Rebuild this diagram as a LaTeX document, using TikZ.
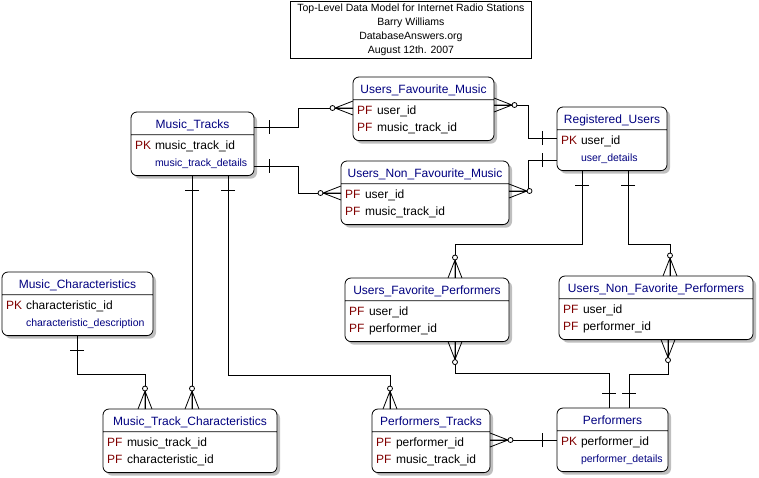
\documentclass[tikz,border=0pt]{standalone}
\usepackage{fontspec}
\setmainfont{Liberation Sans}
\usepackage{xcolor}
\usetikzlibrary{shapes,calc,shadows}

\definecolor{headblue}{RGB}{0,0,128}
\definecolor{keyred}{RGB}{128,0,0}

% entity parts
\newcommand{\ehead}[1]{\makebox[\linewidth]{\textcolor{headblue}{#1}}\rule[-6pt]{0pt}{22pt}}
\newcommand{\ekey}[2]{\makebox[20pt][l]{\textcolor{keyred}{#1}}#2}
\newcommand{\edetail}[1]{\hspace*{20pt}{\fontsize{10.5}{17}\selectfont\textcolor{headblue}{#1}}}
\newcommand{\ebody}[2]{\rule{0pt}{14pt}#1\\#2\rule[-9pt]{0pt}{9pt}}

\begin{document}
\begin{tikzpicture}[x=1pt,y=-1pt,line width=0.8pt,
  entity/.style={rectangle split, rectangle split parts=2, draw, fill=white,
    rounded corners=6pt, anchor=north west, inner xsep=4pt, inner ysep=0pt,
    outer sep=0pt, align=left, font=\fontsize{12}{17}\selectfont,
    drop shadow={shadow xshift=3pt,shadow yshift=-3pt,fill=black!25,opacity=1}},
  onemark/.pic={\draw (15,-7) -- (15,7);},
  manymark/.pic={\draw (0,-7) -- (18,0) -- (0,7) (0,0) -- (18,0);
    \draw[fill=white] (20.5,0) circle[radius=2.5pt];}]
\useasboundingbox (0,0) rectangle (759,477);

\node[draw, anchor=north west, minimum width=241pt, minimum height=57.5pt, inner sep=0pt,
  align=center, font=\fontsize{10.5}{14}\selectfont] (title) at (290,0.5)
  {Top-Level Data Model for Internet Radio Stations\\Barry Williams\\DatabaseAnswers.org\\August 12th. 2007};

% entities
\node[entity, text width=115pt] (tracks) at (131,112)
  {\ehead{Music\_Tracks}\nodepart{two}\ebody{\ekey{PK}{music\_track\_id}}{\edetail{music\_track\_details}}};
\node[entity, text width=133pt] (favmusic) at (353,77)
  {\ehead{Users\_Favourite\_Music}\nodepart{two}\ebody{\ekey{PF}{user\_id}}{\ekey{PF}{music\_track\_id}}};
\node[entity, text width=160pt] (nonfavmusic) at (341,161)
  {\ehead{Users\_Non\_Favourite\_Music}\nodepart{two}\ebody{\ekey{PF}{user\_id}}{\ekey{PF}{music\_track\_id}}};
\node[entity, text width=102pt] (users) at (557,107)
  {\ehead{Registered\_Users}\nodepart{two}\ebody{\ekey{PK}{user\_id}}{\edetail{user\_details}}};
\node[entity, text width=143pt] (chars) at (2,272)
  {\ehead{Music\_Characteristics}\nodepart{two}\ebody{\ekey{PK}{characteristic\_id}}{\edetail{characteristic\_description}}};
\node[entity, text width=166pt] (trackchars) at (103,409)
  {\ehead{Music\_Track\_Characteristics}\nodepart{two}\ebody{\ekey{PF}{music\_track\_id}}{\ekey{PF}{characteristic\_id}}};
\node[entity, text width=110pt] (perftracks) at (372,409)
  {\ehead{Performers\_Tracks}\nodepart{two}\ebody{\ekey{PF}{performer\_id}}{\ekey{PF}{music\_track\_id}}};
\node[entity, text width=103pt] (performers) at (557,408)
  {\ehead{Performers}\nodepart{two}\ebody{\ekey{PK}{performer\_id}}{\edetail{performer\_details}}};
\node[entity, text width=156pt] (favperf) at (345,278)
  {\ehead{Users\_Favorite\_Performers}\nodepart{two}\ebody{\ekey{PF}{user\_id}}{\ekey{PF}{performer\_id}}};
\node[entity, text width=186pt] (nonfavperf) at (559,276)
  {\ehead{Users\_Non\_Favorite\_Performers}\nodepart{two}\ebody{\ekey{PF}{user\_id}}{\ekey{PF}{performer\_id}}};

% relationships
\draw ($(tracks.north east)+(0,15)$) pic{onemark} -- ++(44,0)
  |- ($(favmusic.north west)+(0,31)$) pic[rotate=180]{manymark};
\draw ($(tracks.north east)+(0,54)$) pic{onemark} -- ++(44,0)
  |- ($(nonfavmusic.north west)+(0,32)$) pic[rotate=180]{manymark};
\draw ($(favmusic.north east)+(0,28)$) pic{manymark} -- ++(34,0)
  |- ($(users.north west)+(0,31)$) pic[rotate=180]{onemark};
\draw ($(nonfavmusic.north east)+(0,30)$) pic{manymark} -- ++(19,0)
  |- ($(users.north west)+(0,53)$) pic[rotate=180]{onemark};
\draw ($(users.south west)+(25,0)$) pic[rotate=-90]{onemark} -- ++(0,74)
  -| ($(favperf.north west)+(110,0)$) pic[rotate=90]{manymark};
\draw ($(users.south west)+(71,0)$) pic[rotate=-90]{onemark} -- ++(0,74)
  -| ($(nonfavperf.north west)+(111,0)$) pic[rotate=90]{manymark};
\draw ($(favperf.south west)+(110,0)$) pic[rotate=-90]{manymark} -- ++(0,32)
  -| ($(performers.north west)+(52,0)$) pic[rotate=90]{onemark};
\draw ($(nonfavperf.south west)+(109,0)$) pic[rotate=-90]{manymark} -- ++(0,35)
  -| ($(performers.north west)+(72,0)$) pic[rotate=90]{onemark};
\draw ($(perftracks.north east)+(0,31)$) pic{manymark}
  -- ($(performers.north west)+(0,32)$) pic[rotate=180]{onemark};
\draw ($(tracks.south west)+(97,0)$) pic[rotate=-90]{onemark} -- ++(0,200)
  -| ($(perftracks.north west)+(18,0)$) pic[rotate=90]{manymark};
\draw ($(tracks.south west)+(61,0)$) pic[rotate=-90]{onemark}
  -- ($(trackchars.north west)+(89,0)$) pic[rotate=90]{manymark};
\draw ($(chars.south west)+(75,0)$) pic[rotate=-90]{onemark} -- ++(0,39)
  -| ($(trackchars.north west)+(42,0)$) pic[rotate=90]{manymark};
\end{tikzpicture}
\end{document}
